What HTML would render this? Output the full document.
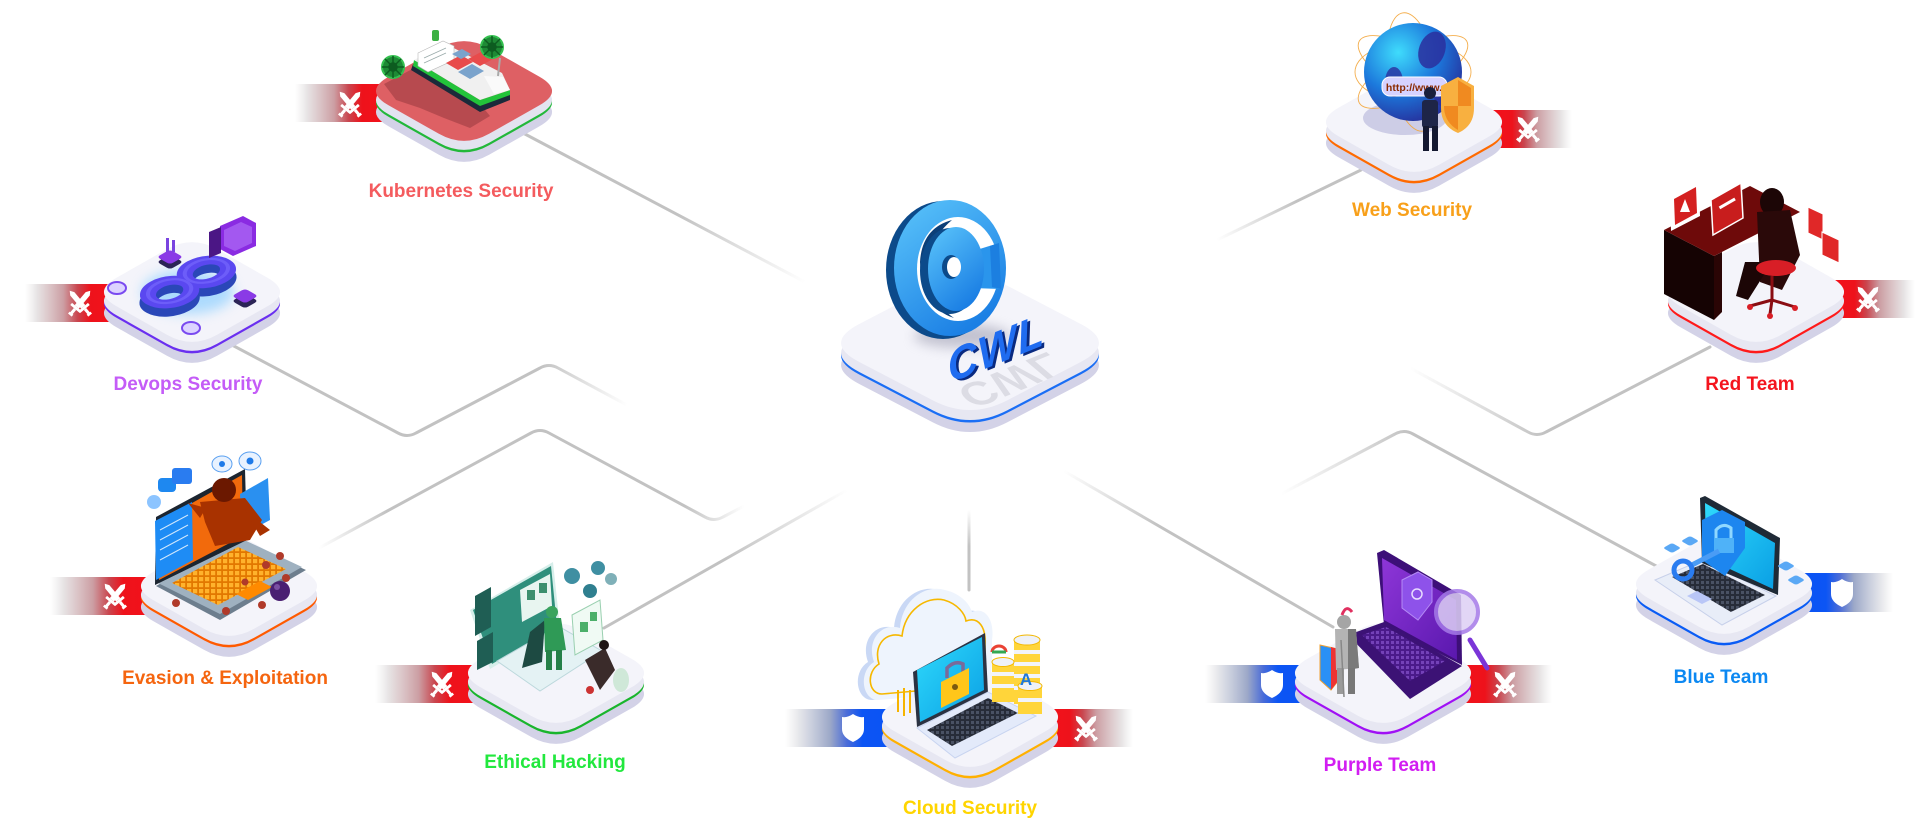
<!DOCTYPE html>
<html><head><meta charset="utf-8">
<style>
html,body{margin:0;padding:0;background:#fff;}
body{width:1920px;height:828px;overflow:hidden;}
svg{display:block;}
.lb{font-family:"Liberation Sans",Arial,sans-serif;font-weight:700;font-size:19px;text-anchor:middle;}
</style></head><body>
<svg width="1920" height="828" viewBox="0 0 1920 828" xmlns="http://www.w3.org/2000/svg">
<defs>
<path id="ps" d="M-75.5,-14.3 L-25.1,-42.8 Q0,-57 25.1,-42.8 L75.5,-14.3 Q100.6,0 75.5,14.3 L25.1,42.8 Q0,57 -25.1,42.8 L-75.5,14.3 Q-100.6,0 -75.5,-14.3Z"/>
<path id="pl" d="M-110.5,-19.1 L-36.9,-57.5 Q0,-76.6 36.9,-57.5 L110.5,-19.1 Q147.4,0 110.5,19.1 L36.9,57.5 Q0,76.6 -36.9,57.5 L-110.5,19.1 Q-147.4,0 -110.5,-19.1Z"/>
<g id="sw1"><path d="M0,-16 L2.7,-12 L2.7,5 L-2.7,5 L-2.7,-12Z"/><rect x="-6.2" y="5" width="12.4" height="2.8"/><rect x="-1.5" y="7.8" width="3" height="5.6"/><rect x="-2.4" y="13.2" width="4.8" height="2.6"/></g>
<g id="sw" fill="#fff"><use href="#sw1" transform="rotate(-40)"/><use href="#sw1" transform="rotate(40)"/></g>
<path id="sh" fill="#fff" d="M0,-14 Q6,-10 11,-11 L11,1 Q11,9 0,14 Q-11,9 -11,1 L-11,-11 Q-6,-10 0,-14Z"/>
<linearGradient id="fR" x1="0" y1="0" x2="1" y2="0">
<stop offset="0" stop-color="#e8e8e8" stop-opacity="0"/><stop offset="0.12" stop-color="#e4e0e1" stop-opacity="0.9"/><stop offset="0.38" stop-color="#cc9ea3"/><stop offset="0.52" stop-color="#c9464f"/><stop offset="0.65" stop-color="#ee121b"/><stop offset="1" stop-color="#f5101a"/></linearGradient>
<linearGradient id="fRr" x1="1" y1="0" x2="0" y2="0">
<stop offset="0" stop-color="#e8e8e8" stop-opacity="0"/><stop offset="0.12" stop-color="#e4e0e1" stop-opacity="0.9"/><stop offset="0.38" stop-color="#cc9ea3"/><stop offset="0.52" stop-color="#c9464f"/><stop offset="0.65" stop-color="#ee121b"/><stop offset="1" stop-color="#f5101a"/></linearGradient>
<linearGradient id="fB" x1="0" y1="0" x2="1" y2="0">
<stop offset="0" stop-color="#e8e8e8" stop-opacity="0"/><stop offset="0.12" stop-color="#e2e3e8" stop-opacity="0.9"/><stop offset="0.38" stop-color="#9ca8c8"/><stop offset="0.52" stop-color="#4a6cd8"/><stop offset="0.65" stop-color="#0c55f4"/><stop offset="1" stop-color="#0a52f5"/></linearGradient>
<linearGradient id="fBr" x1="1" y1="0" x2="0" y2="0">
<stop offset="0" stop-color="#e8e8e8" stop-opacity="0"/><stop offset="0.12" stop-color="#e2e3e8" stop-opacity="0.9"/><stop offset="0.38" stop-color="#9ca8c8"/><stop offset="0.52" stop-color="#4a6cd8"/><stop offset="0.65" stop-color="#0c55f4"/><stop offset="1" stop-color="#0a52f5"/></linearGradient>

<linearGradient id="l1" gradientUnits="userSpaceOnUse" x1="523" y1="133" x2="805" y2="282"><stop offset="0" stop-color="#c2c2c2"/><stop offset=".55" stop-color="#c2c2c2"/><stop offset="1" stop-color="#c2c2c2" stop-opacity="0"/></linearGradient>
<linearGradient id="l2" gradientUnits="userSpaceOnUse" x1="232" y1="0" x2="627" y2="0"><stop offset="0" stop-color="#c2c2c2"/><stop offset=".78" stop-color="#c2c2c2"/><stop offset="1" stop-color="#c2c2c2" stop-opacity="0"/></linearGradient>
<linearGradient id="l3" gradientUnits="userSpaceOnUse" x1="319" y1="0" x2="744" y2="0"><stop offset="0" stop-color="#c2c2c2" stop-opacity="0"/><stop offset=".16" stop-color="#c2c2c2"/><stop offset=".86" stop-color="#c2c2c2"/><stop offset="1" stop-color="#c2c2c2" stop-opacity="0"/></linearGradient>
<linearGradient id="l4" gradientUnits="userSpaceOnUse" x1="604" y1="628" x2="847" y2="490"><stop offset="0" stop-color="#c2c2c2"/><stop offset=".5" stop-color="#c2c2c2"/><stop offset="1" stop-color="#c2c2c2" stop-opacity="0"/></linearGradient>
<linearGradient id="l5" gradientUnits="userSpaceOnUse" x1="1217" y1="240" x2="1361" y2="170"><stop offset="0" stop-color="#c2c2c2" stop-opacity="0"/><stop offset=".55" stop-color="#c2c2c2"/><stop offset="1" stop-color="#c2c2c2"/></linearGradient>
<linearGradient id="l6" gradientUnits="userSpaceOnUse" x1="1710" y1="0" x2="1410" y2="0"><stop offset="0" stop-color="#c2c2c2"/><stop offset=".55" stop-color="#c2c2c2"/><stop offset="1" stop-color="#c2c2c2" stop-opacity="0"/></linearGradient>
<linearGradient id="l7" gradientUnits="userSpaceOnUse" x1="1658" y1="0" x2="1281" y2="0"><stop offset="0" stop-color="#c2c2c2"/><stop offset=".66" stop-color="#c2c2c2"/><stop offset="1" stop-color="#c2c2c2" stop-opacity="0"/></linearGradient>
<linearGradient id="l8" gradientUnits="userSpaceOnUse" x1="1064" y1="471" x2="1333" y2="627"><stop offset="0" stop-color="#c2c2c2" stop-opacity="0"/><stop offset=".35" stop-color="#c2c2c2"/><stop offset="1" stop-color="#c2c2c2"/></linearGradient>
<linearGradient id="l9" gradientUnits="userSpaceOnUse" x1="0" y1="510" x2="0" y2="590"><stop offset="0" stop-color="#c2c2c2" stop-opacity="0"/><stop offset=".45" stop-color="#c2c2c2"/><stop offset="1" stop-color="#c2c2c2"/></linearGradient>

<linearGradient id="gLogo" x1="0" y1="0" x2="0.6" y2="1"><stop offset="0" stop-color="#5cc6fb"/><stop offset="1" stop-color="#1b7fe4"/></linearGradient>
<radialGradient id="gGlobe" cx="0.35" cy="0.3" r="0.75"><stop offset="0" stop-color="#3fdcfc"/><stop offset="0.55" stop-color="#1c78dc"/><stop offset="1" stop-color="#26309c"/></radialGradient>
<linearGradient id="gPur" x1="0" y1="0" x2="1" y2="1"><stop offset="0" stop-color="#8e36d8"/><stop offset="1" stop-color="#5a18ae"/></linearGradient>
<linearGradient id="gCyan" x1="0" y1="0" x2="1" y2="1"><stop offset="0" stop-color="#2fdafc"/><stop offset="1" stop-color="#0a9fe4"/></linearGradient>
<pattern id="kd" width="5" height="5" patternUnits="userSpaceOnUse"><rect width="5" height="5" fill="#272c38"/><rect x="1" y="1" width="3" height="3" fill="#4a5264"/></pattern>
<pattern id="ko" width="6" height="6" patternUnits="userSpaceOnUse"><rect width="6" height="6" fill="#e27800"/><rect x="1" y="1" width="4.2" height="4.2" fill="#ffb22c"/></pattern>
<pattern id="kp" width="5" height="5" patternUnits="userSpaceOnUse"><rect width="5" height="5" fill="#4a1a8a"/><rect x="1" y="1" width="3" height="3" fill="#7442b8"/></pattern>
<filter id="bl" x="-50%" y="-50%" width="200%" height="200%"><feGaussianBlur stdDeviation="6"/></filter>
</defs>

<!-- connector lines -->
<g fill="none" stroke-width="3" stroke-linecap="round" stroke-linejoin="round">
<path d="M523,133 L805,282" stroke="url(#l1)"/>
<path d="M232,345 L398,433 Q407,438 416,433 L540,368 Q549,363 558,368 L627,405" stroke="url(#l2)"/>
<path d="M319,548 L531,433 Q540,428 549,433 L705,517 Q714,522 723,517 L744,506" stroke="url(#l3)"/>
<path d="M604,628 L847,490" stroke="url(#l4)"/>
<path d="M1217,240 L1361,170" stroke="url(#l5)"/>
<path d="M1710,347 L1546,432 Q1537,437 1528,432 L1410,368" stroke="url(#l6)"/>
<path d="M1658,567 L1413,434 Q1404,429 1395,434 L1281,494" stroke="url(#l7)"/>
<path d="M1064,471 L1333,627" stroke="url(#l8)"/>
<path d="M969,510 L969,590" stroke="url(#l9)"/>
</g>

<!-- flags -->
<rect x="295" y="84" width="103" height="38" fill="url(#fR)"/>
<rect x="25" y="284" width="101" height="38" fill="url(#fR)"/>
<rect x="50" y="577" width="113" height="38" fill="url(#fR)"/>
<rect x="375" y="665" width="115" height="38" fill="url(#fR)"/>
<rect x="785" y="709" width="119" height="38" fill="url(#fB)"/>
<rect x="1036" y="709" width="97" height="38" fill="url(#fRr)"/>
<rect x="1205" y="665" width="112" height="38" fill="url(#fB)"/>
<rect x="1449" y="665" width="103" height="38" fill="url(#fRr)"/>
<rect x="1480" y="110" width="92" height="38" fill="url(#fRr)"/>
<rect x="1822" y="280" width="93" height="38" fill="url(#fRr)"/>
<rect x="1790" y="573" width="103" height="39" fill="url(#fBr)"/>
<use href="#sw" x="350" y="104"/>
<use href="#sw" x="80" y="303"/>
<use href="#sw" x="115" y="596"/>
<use href="#sw" x="442" y="684"/>
<use href="#sh" x="853" y="728"/>
<use href="#sw" x="1086" y="728"/>
<use href="#sh" x="1272" y="684"/>
<use href="#sw" x="1505" y="684"/>
<use href="#sw" x="1528" y="129"/>
<use href="#sw" x="1868" y="299"/>
<use href="#sh" x="1842" y="593"/>

<!-- platforms -->
<g transform="translate(464,91)"><use href="#ps" y="21" fill="#d3d2e7"/><use href="#ps" y="11.5" fill="#22b83a"/><use href="#ps" y="9" fill="#e3e3f0"/><use href="#ps" fill="#de6064"/></g>
<g transform="translate(192,292)"><use href="#ps" y="21" fill="#d3d2e7"/><use href="#ps" y="11.5" fill="#6a2ff0"/><use href="#ps" y="9" fill="#e7e7f2"/><use href="#ps" fill="#f4f4fa"/></g>
<g transform="translate(1414,122)"><use href="#ps" y="21" fill="#d3d2e7"/><use href="#ps" y="11.5" fill="#ff6a00"/><use href="#ps" y="9" fill="#e7e7f2"/><use href="#ps" fill="#f4f4fa"/></g>
<g transform="translate(1756,292)"><use href="#ps" y="21" fill="#d3d2e7"/><use href="#ps" y="11.5" fill="#ff1a1a"/><use href="#ps" y="9" fill="#e7e7f2"/><use href="#ps" fill="#f4f4fa"/></g>
<g transform="translate(229,586)"><use href="#ps" y="21" fill="#d3d2e7"/><use href="#ps" y="11.5" fill="#ff5a00"/><use href="#ps" y="9" fill="#e7e7f2"/><use href="#ps" fill="#f4f4fa"/></g>
<g transform="translate(556,673)"><use href="#ps" y="21" fill="#d3d2e7"/><use href="#ps" y="11.5" fill="#19b52c"/><use href="#ps" y="9" fill="#e7e7f2"/><use href="#ps" fill="#f4f4fa"/></g>
<g transform="translate(970,717)"><use href="#ps" y="21" fill="#d3d2e7"/><use href="#ps" y="11.5" fill="#ffb000"/><use href="#ps" y="9" fill="#e7e7f2"/><use href="#ps" fill="#f4f4fa"/></g>
<g transform="translate(1383,673)"><use href="#ps" y="21" fill="#d3d2e7"/><use href="#ps" y="11.5" fill="#a010f5"/><use href="#ps" y="9" fill="#e7e7f2"/><use href="#ps" fill="#f4f4fa"/></g>
<g transform="translate(1724,584)"><use href="#ps" y="21" fill="#d3d2e7"/><use href="#ps" y="11.5" fill="#0a5cf5"/><use href="#ps" y="9" fill="#e7e7f2"/><use href="#ps" fill="#f4f4fa"/></g>
<g transform="translate(970,343)"><use href="#pl" y="22" fill="#d3d2e7"/><use href="#pl" y="12.5" fill="#1a6ef5"/><use href="#pl" y="10" fill="#e7e7f2"/><use href="#pl" fill="#f4f4fa"/></g>

<!-- CENTER LOGO -->
<ellipse cx="962" cy="336" rx="48" ry="12" fill="#9a9aae" opacity="0.55" filter="url(#bl)"/>
<g transform="translate(955,389) rotate(-22) scale(1,-0.85) skewX(-14)">
<text x="0" y="0" font-family="Liberation Sans, sans-serif" font-size="44" font-weight="700" font-style="italic" fill="#dcdce4" letter-spacing="1">CWL</text></g>
<ellipse cx="943" cy="270" rx="57" ry="69" fill="#0c4a8a"/>
<ellipse cx="950" cy="268" rx="56" ry="68" fill="url(#gLogo)"/>
<ellipse cx="958" cy="269" rx="41" ry="52" fill="#fff"/>
<path d="M920,262 Q922,228 952,220 Q930,238 929,268 Q930,302 954,318 Q922,308 920,262Z" fill="#0c3f78"/>
<polygon points="970,252 999,243 1001,289 972,288" fill="#2a95ec"/>
<polygon points="990,246 999,243 1001,289 992,287" fill="#1c7fe0"/>
<ellipse cx="950" cy="271" rx="30" ry="43" fill="#0c4a8a"/>
<ellipse cx="956" cy="269" rx="28" ry="42" fill="url(#gLogo)"/>
<ellipse cx="951" cy="267" rx="9" ry="12" fill="#0c4a8a"/>
<ellipse cx="954" cy="267" rx="7" ry="10" fill="#fff"/>
<g transform="translate(950,383) rotate(-22) skewX(-14)">
<text x="2.5" y="2.5" font-family="Liberation Sans, sans-serif" font-size="44" font-weight="700" font-style="italic" fill="#0a2a80" letter-spacing="1">CWL</text>
<text x="0" y="0" font-family="Liberation Sans, sans-serif" font-size="44" font-weight="700" font-style="italic" fill="#1f6cf0" letter-spacing="1">CWL</text></g>

<!-- KUBERNETES -->
<polygon points="384,84 418,66 472,94 490,116 470,128 444,118 420,108 396,100" fill="#b0474b" opacity="0.85"/>
<polygon points="413,64 480,104 510,94 510,100 480,112 411,70" fill="#1b2a3a"/>
<polygon points="414,60 480,100 510,90 510,95 480,106 413,66" fill="#22c33a"/>
<polygon points="414,60 446,44 502,73 510,90 480,100" fill="#f0f0f0"/>
<polygon points="418,53 443,41 454,46 454,60 428,72 418,66" fill="#fff" stroke="#b8b8b8" stroke-width="0.6"/>
<g stroke="#9aa" stroke-width="0.8"><line x1="424" y1="58" x2="446" y2="48"/><line x1="424" y1="63" x2="446" y2="53"/></g>
<polygon points="446,63 461,55 473,62 458,70" fill="#e84b4b"/>
<polygon points="458,72 472,64 484,71 470,79" fill="#7aa3cc"/>
<polygon points="468,59 481,52 493,59 480,66" fill="#e84b4b"/>
<polygon points="452,54 462,49 471,54 461,59" fill="#7aa3cc"/>
<polygon points="484,76 503,77 510,90 494,94" fill="#fafafa"/>
<line x1="498" y1="76" x2="500" y2="58" stroke="#aaa" stroke-width="2"/>
<rect x="432" y="30" width="7" height="11" rx="2" fill="#3cb043"/>
<g stroke="#0d5c20" stroke-width="1.5">
<circle cx="393" cy="67" r="11" fill="#1e8a35" stroke="#35c050" stroke-width="2"/>
<line x1="382" y1="67" x2="404" y2="67"/><line x1="393" y1="56" x2="393" y2="78"/><line x1="385" y1="59" x2="401" y2="75"/><line x1="401" y1="59" x2="385" y2="75"/>
<circle cx="393" cy="67" r="4" fill="#0d5c20"/>
<circle cx="492" cy="47" r="11" fill="#1e8a35" stroke="#35c050" stroke-width="2"/>
<line x1="481" y1="47" x2="503" y2="47"/><line x1="492" y1="36" x2="492" y2="58"/><line x1="484" y1="39" x2="500" y2="55"/><line x1="500" y1="39" x2="484" y2="55"/>
<circle cx="492" cy="47" r="4" fill="#0d5c20"/>
</g>

<!-- DEVOPS -->
<ellipse cx="188" cy="292" rx="46" ry="22" fill="#8fd0ff" opacity="0.7" filter="url(#bl)"/>
<g transform="translate(188,290) scale(1,0.55) rotate(-45)" fill="none" stroke="#2a47b8" stroke-width="17"><ellipse cx="-26" cy="0" rx="24" ry="19"/><ellipse cx="26" cy="0" rx="24" ry="19"/></g>
<g transform="translate(188,282) scale(1,0.55) rotate(-45)" fill="none" stroke="#5a48f0" stroke-width="16"><ellipse cx="-26" cy="0" rx="24" ry="19"/><ellipse cx="26" cy="0" rx="24" ry="19"/></g>
<g transform="translate(188,281) scale(1,0.55) rotate(-45)" fill="none" stroke="#7a6cff" stroke-width="4" opacity="0.6"><ellipse cx="-26" cy="0" rx="24" ry="19"/><ellipse cx="26" cy="0" rx="24" ry="19"/></g>
<use href="#ps" transform="translate(170,262) scale(0.13)" fill="#2b2456"/>
<use href="#ps" transform="translate(170,257) scale(0.13)" fill="#8a3ae6"/>
<rect x="166" y="238" width="3" height="14" fill="#7a44e0"/><rect x="172" y="240" width="3" height="12" fill="#7a44e0"/>
<use href="#ps" transform="translate(245,301) scale(0.13)" fill="#2b2456"/>
<use href="#ps" transform="translate(245,296) scale(0.13)" fill="#8a3ae6"/>
<ellipse cx="117" cy="288" rx="9" ry="6" fill="#dcd3ff" stroke="#7a4af0" stroke-width="2"/>
<ellipse cx="191" cy="328" rx="9" ry="6" fill="#dcd3ff" stroke="#7a4af0" stroke-width="2"/>
<polygon points="220,226 243,216 256,223 256,246 233,256 220,249" fill="#8a2be2"/>
<polygon points="224,230 241,222 252,227 252,243 235,251 224,246" fill="#a358f0"/>
<polygon points="209,232 221,227 221,253 209,258" fill="#4b1685"/>

<!-- WEB -->
<ellipse cx="1405" cy="118" rx="42" ry="17" fill="#cdcde6"/>
<g fill="none" stroke="#f3a63a" stroke-width="0.9" opacity="0.9">
<ellipse cx="1413" cy="72" rx="62" ry="22" transform="rotate(30 1413 72)"/>
<ellipse cx="1413" cy="72" rx="62" ry="22" transform="rotate(-30 1413 72)"/>
<ellipse cx="1413" cy="72" rx="60" ry="24" transform="rotate(80 1413 72)"/>
<ellipse cx="1413" cy="72" rx="58" ry="30"/>
</g>
<circle cx="1413" cy="72" r="49" fill="url(#gGlobe)"/>
<ellipse cx="1432" cy="50" rx="13" ry="19" transform="rotate(20 1432 50)" fill="#2a2f9e" opacity="0.85"/>
<ellipse cx="1394" cy="82" rx="9" ry="15" fill="#2a2f9e" opacity="0.8"/>
<ellipse cx="1442" cy="96" rx="8" ry="10" fill="#2a2f9e" opacity="0.8"/>
<rect x="1382" y="77" width="65" height="19" rx="8" fill="#d6d2ff" stroke="#fff"/>
<text x="1414" y="91" font-family="Liberation Sans, sans-serif" font-size="10.5" font-weight="700" fill="#8a2a00" text-anchor="middle">http://www.</text>
<path d="M1458,77 L1474,86 L1474,108 Q1474,126 1458,133 Q1441,126 1441,108 L1441,86 Z" fill="#f8b040"/>
<path d="M1458,80 L1471,88 L1471,106 L1458,106Z" fill="#f08a20"/><path d="M1444,106 L1458,106 L1458,130 Q1444,122 1444,106Z" fill="#f08a20"/>
<circle cx="1430" cy="93" r="6" fill="#1a1f3d"/>
<rect x="1422" y="100" width="16" height="28" rx="3" fill="#1e2548"/>
<rect x="1423" y="126" width="6" height="25" fill="#141830"/><rect x="1432" y="126" width="6" height="25" fill="#141830"/>

<!-- RED TEAM -->
<polygon points="1664,230 1714,256 1714,320 1664,294" fill="#150303"/>
<polygon points="1714,256 1722,252 1722,312 1714,320" fill="#2a0505"/>
<polygon points="1664,230 1750,186 1800,212 1714,256" fill="#6e0a0a"/>
<polygon points="1670,196 1699,181 1700,216 1671,231" fill="#fff"/>
<polygon points="1674,199 1696,187 1697,213 1675,225" fill="#d42020"/>
<polygon points="1685,199 1690,212 1680,212" fill="#fff"/>
<polygon points="1711,200 1741,183 1743,218 1713,235" fill="#c81d1d" stroke="#fff" stroke-width="1.5"/>
<rect x="1718" y="202" width="18" height="3" fill="#fff" transform="rotate(-30 1727 203)"/>
<ellipse cx="1772" cy="202" rx="12" ry="14" fill="#1c0606"/>
<polygon points="1757,212 1790,210 1800,255 1782,290 1760,282" fill="#2a0909"/>
<polygon points="1745,262 1772,262 1748,300 1736,296" fill="#1c0606"/>
<ellipse cx="1776" cy="268" rx="20" ry="8" fill="#d81e26"/>
<g stroke="#8a0d12" stroke-width="3"><line x1="1772" y1="276" x2="1772" y2="300"/><line x1="1772" y1="300" x2="1750" y2="306"/><line x1="1772" y1="300" x2="1795" y2="307"/><line x1="1772" y1="300" x2="1770" y2="314"/></g>
<circle cx="1750" cy="307" r="3" fill="#d81e26"/><circle cx="1795" cy="308" r="3" fill="#d81e26"/><circle cx="1770" cy="316" r="3" fill="#d81e26"/>
<polygon points="1808,207 1823,214 1823,240 1808,233" fill="#e02828" stroke="#fff" stroke-width="1"/>
<polygon points="1822,232 1839,240 1839,263 1822,255" fill="#e02828" stroke="#fff" stroke-width="1"/>

<!-- EVASION -->
<polygon points="156,586 240,540 306,570 220,620" fill="#6d7e8e"/>
<polygon points="158,583 240,538 302,567 220,614" fill="#9fb1c0"/>
<polygon points="172,583 238,547 286,569 218,605" fill="url(#ko)"/>
<polygon points="236,594 260,581 272,587 248,600" fill="#ff8a00"/>
<polygon points="155,585 156,517 245,469 247,540" fill="#1c2530"/>
<polygon points="159,580 160,521 242,475 243,536" fill="#f26a0c"/>
<polygon points="155,521 192,502 193,560 156,580" fill="#1e8cf5"/>
<g stroke="#fff" stroke-width="1" opacity="0.8"><line x1="160" y1="530" x2="188" y2="515"/><line x1="160" y1="540" x2="188" y2="525"/><line x1="160" y1="550" x2="188" y2="535"/><line x1="160" y1="560" x2="188" y2="545"/></g>
<polygon points="240,494 268,478 270,520 242,535" fill="#2a90f0"/>
<polygon points="200,502 245,498 262,520 250,540 215,546 205,522" fill="#a83200"/>
<polygon points="188,503 206,508 200,518" fill="#a83200"/><polygon points="245,510 270,530 260,536" fill="#a83200"/>
<circle cx="224" cy="490" r="12" fill="#6b1800"/>
<rect x="158" y="478" width="18" height="14" rx="4" fill="#1e88f0"/>
<rect x="172" y="468" width="20" height="16" rx="3" fill="#2a7cf0"/>
<circle cx="154" cy="502" r="7" fill="#8cc4ff"/>
<ellipse cx="222" cy="464" rx="10" ry="8" fill="#e8f2ff" stroke="#5aa0f0"/><circle cx="222" cy="464" r="3" fill="#1e7ae8"/>
<ellipse cx="250" cy="461" rx="11" ry="9" fill="#e8f2ff" stroke="#5aa0f0"/><circle cx="250" cy="461" r="3.5" fill="#1e7ae8"/>
<g fill="#b03a2a"><circle cx="176" cy="603" r="4"/><circle cx="226" cy="611" r="4"/><circle cx="262" cy="605" r="4"/><circle cx="266" cy="565" r="4"/><circle cx="280" cy="556" r="4"/><circle cx="245" cy="582" r="3.5"/><circle cx="286" cy="578" r="4"/></g>
<circle cx="280" cy="591" r="10" fill="#4a1f72"/><circle cx="277" cy="587" r="3" fill="#7a4fa2"/>

<!-- ETHICAL -->
<polygon points="470,610 553,562 560,628 490,669" fill="#d6eeea"/>
<polygon points="473,610 551,566 557,626 492,664" fill="#2f8f7c"/>
<polygon points="475,596 491,587 491,627 475,636" fill="#1f5e54"/>
<polygon points="477,641 493,632 493,662 477,670" fill="#1f5e54"/>
<polygon points="520,590 550,574 552,606 522,622" fill="#e8f5f0"/>
<rect x="527" y="590" width="8" height="10" fill="#3c8f6e"/><rect x="539" y="583" width="8" height="10" fill="#3c8f6e"/>
<polygon points="497,661 558,626 602,651 540,691" fill="#e4f2f4" stroke="#bcd8dc"/>
<polygon points="530,632 545,620 542,662 522,668" fill="#1d4a42"/>
<circle cx="552" cy="612" r="6" fill="#3aa35e"/>
<polygon points="544,618 561,618 566,650 545,652" fill="#2f9a56"/>
<rect x="546" y="650" width="6" height="20" fill="#248048"/><rect x="556" y="650" width="6" height="20" fill="#248048"/>
<polygon points="572,615 600,600 603,640 575,655" fill="#f0faf4" stroke="#9ad0b0"/>
<rect x="580" y="622" width="8" height="10" fill="#4caf6a"/><rect x="590" y="612" width="7" height="9" fill="#4caf6a"/>
<circle cx="572" cy="576" r="8" fill="#3f8fa2"/><circle cx="598" cy="568" r="7" fill="#3f8fa2"/><circle cx="590" cy="591" r="7" fill="#2f7f8f"/><circle cx="611" cy="579" r="6" fill="#7fb0b8"/>
<polygon points="585,660 605,648 615,670 600,690" fill="#3a2b2a"/>
<circle cx="604" cy="645" r="5" fill="#1e1515"/>
<circle cx="590" cy="690" r="4" fill="#c33"/>
<ellipse cx="621" cy="680" rx="8" ry="12" fill="#cfe8d8"/>

<!-- CLOUD -->
<path d="M872,700 C856,700 852,672 868,662 C860,640 876,622 894,628 C896,600 919,584 939,590 C956,594 964,605 966,612 C979,606 989,620 986,640 L986,660 C986,680 979,690 969,692 Z" fill="#c9d8f5"/>
<path d="M878,700 C862,700 858,672 874,662 C866,640 882,622 900,628 C902,600 925,584 945,590 C962,594 970,605 972,612 C985,606 995,620 992,640 L992,660 C992,680 985,690 975,692 Z" fill="#eef4fd"/>
<path d="M882,694 C868,694 866,672 879,664 C873,645 886,631 902,636 C905,610 926,596 944,600 C958,604 965,614 966,621 C979,616 986,628 985,644 L985,660 C985,676 980,684 972,686 Z" fill="none" stroke="#f6b800" stroke-width="1.6"/>
<g fill="none" stroke="#f6b400" stroke-width="2"><path d="M898,690 L898,712"/><path d="M904,688 L904,716"/><path d="M910,690 L910,713"/></g>
<polygon points="913,672 985,633 988,693 917,727" fill="#2b3242"/>
<polygon points="917,670 982,637 984,690 920,722" fill="url(#gCyan)"/>
<path d="M947,678 L947,668 Q955,660 963,664 L963,674" fill="none" stroke="#7a6a9a" stroke-width="3.5"/>
<polygon points="941,682 969,668 969,694 941,708" fill="#ffc61a"/>
<circle cx="955" cy="687" r="3" fill="#7a5a10"/>
<polygon points="917,728 988,692 1036,716 955,758" fill="#e3eafa" stroke="#c8d4f0"/>
<polygon points="927,730 988,698 1018,713 952,746" fill="url(#kd)"/>
<rect x="1014" y="640" width="26" height="64" fill="#ffd53a"/>
<g fill="#f2f4fa"><rect x="1014" y="650" width="26" height="4"/><rect x="1014" y="662" width="26" height="4"/><rect x="1014" y="674" width="26" height="4"/><rect x="1014" y="686" width="26" height="4"/></g>
<ellipse cx="1027" cy="640" rx="13" ry="5" fill="#eef1f8" stroke="#f3b800"/>
<rect x="992" y="662" width="22" height="40" fill="#ffd53a"/>
<g fill="#f2f4fa"><rect x="992" y="672" width="22" height="4"/><rect x="992" y="684" width="22" height="4"/></g>
<ellipse cx="1003" cy="662" rx="11" ry="4.5" fill="#eef1f8" stroke="#f3b800"/>
<rect x="1018" y="686" width="24" height="28" fill="#ffd53a"/>
<rect x="1018" y="698" width="24" height="4" fill="#f2f4fa"/>
<ellipse cx="1030" cy="686" rx="12" ry="4.5" fill="#eef1f8" stroke="#f3b800"/>
<path d="M992,652 A7,6 0 0 1 1006,652" fill="none" stroke="#ea4335" stroke-width="3"/><path d="M992,652 L1006,652" stroke="#34a853" stroke-width="3"/>
<text x="1026" y="685" font-family="Liberation Sans, sans-serif" font-size="17" font-weight="700" fill="#1f78d8" text-anchor="middle">A</text>

<!-- PURPLE -->
<polygon points="1377,553 1384,550 1461,595 1462,665 1384,625" fill="#3d0f78"/>
<polygon points="1382,558 1456,600 1457,660 1384,620" fill="url(#gPur)"/>
<polygon points="1402,580 1418,572 1432,580 1432,602 1418,620 1402,608" fill="#8e52ea" stroke="#b48af5"/>
<circle cx="1417" cy="594" r="5" fill="none" stroke="#e8dcff" stroke-width="1.5"/>
<polygon points="1348,635 1384,622 1462,666 1410,699" fill="#3c1275"/>
<polygon points="1362,635 1386,627 1445,661 1410,681" fill="url(#kp)"/>
<line x1="1470" y1="640" x2="1487" y2="668" stroke="#7b35d8" stroke-width="5" stroke-linecap="round"/>
<circle cx="1457" cy="612" r="21" fill="#ddd0f5" opacity="0.85" stroke="#a57ae8" stroke-width="4"/>
<polygon points="1320,645 1342,650 1342,676 1331,690 1320,680" fill="#2a90f5" stroke="#f0a030"/>
<polygon points="1331,647 1342,650 1342,676 1331,690" fill="#e33"/>
<circle cx="1344" cy="622" r="7" fill="#a5a5a5"/>
<path d="M1342,615 Q1346,604 1352,612" fill="none" stroke="#e03060" stroke-width="3"/>
<polygon points="1335,629 1356,629 1359,668 1336,670" fill="#b4b4b4"/>
<polygon points="1348,629 1356,629 1359,668 1348,670" fill="#7a7a7a"/>
<rect x="1337" y="668" width="7" height="26" fill="#9a9a9a"/><rect x="1348" y="668" width="7" height="26" fill="#777"/>
<line x1="1341" y1="640" x2="1344" y2="697" stroke="#888" stroke-width="1.5"/>

<!-- BLUE -->
<polygon points="1655,580 1702,560 1776,596 1722,625" fill="#e8edf8" stroke="#c7d0ea"/>
<polygon points="1672,577 1703,564 1765,595 1731,612" fill="url(#kd)"/>
<polygon points="1687,596 1697,591 1712,599 1702,604" fill="#b9c6f7"/>
<polygon points="1700,498 1705,496 1780,538 1778,595 1702,563" fill="#1f2a36"/>
<polygon points="1705,503 1775,543 1773,589 1706,558" fill="url(#gCyan)"/>
<polygon points="1702,520 1722,510 1745,522 1745,548 1725,576 1702,560" fill="#1d86ef"/>
<path d="M1716,540 L1716,530 Q1723,522 1731,528 L1731,538" fill="none" stroke="#8fd8ff" stroke-width="3"/>
<rect x="1714" y="538" width="20" height="15" fill="#4fb2f8"/>
<line x1="1690" y1="566" x2="1719" y2="551" stroke="#4a9cf5" stroke-width="5"/>
<circle cx="1683" cy="570" r="9" fill="none" stroke="#2a7cf0" stroke-width="5"/>
<g fill="#5aa8f5" stroke="#fff" stroke-width="0.8"><use href="#ps" transform="translate(1672,548) scale(0.09)"/><use href="#ps" transform="translate(1690,541) scale(0.09)"/><use href="#ps" transform="translate(1786,566) scale(0.09)"/><use href="#ps" transform="translate(1796,580) scale(0.09)"/></g>

<!-- labels -->
<text class="lb" x="461" y="197" fill="#f45b5e">Kubernetes Security</text>
<text class="lb" x="188" y="390" fill="#c45cf7">Devops Security</text>
<text class="lb" x="1412" y="216" fill="#f8a01a">Web Security</text>
<text class="lb" x="1750" y="390" fill="#f4141e">Red Team</text>
<text class="lb" x="225" y="684" fill="#f5650f">Evasion &amp; Exploitation</text>
<text class="lb" x="555" y="768" fill="#22e83e">Ethical Hacking</text>
<text class="lb" x="970" y="814" fill="#ffd500">Cloud Security</text>
<text class="lb" x="1380" y="771" fill="#d21ef2">Purple Team</text>
<text class="lb" x="1721" y="683" fill="#0c88f2">Blue Team</text>
</svg>
</body></html>
